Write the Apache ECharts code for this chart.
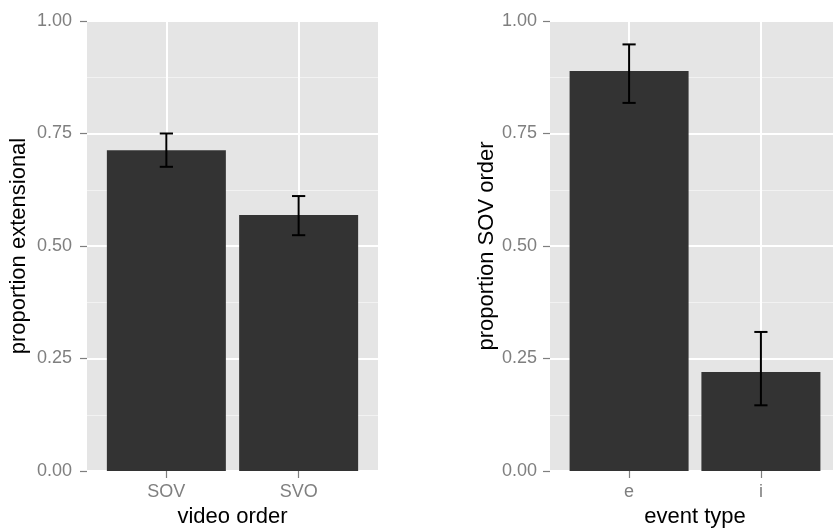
<!DOCTYPE html>
<html>
<head>
<meta charset="utf-8">
<script src="https://cdn.jsdelivr.net/npm/echarts@6/dist/echarts.min.js"></script>
<style>
html,body{margin:0;padding:0;background:#fff;}
#chart{width:833px;height:529px;}
</style>
</head>
<body>
<div id="chart"></div>
<script>
// ---- data ----
const leftCategories = ['SOV', 'SVO'];
const leftMeans = [0.713, 0.569];
const leftLower = [0.676, 0.524];
const leftUpper = [0.750, 0.611];

const rightCategories = ['e', 'i'];
const rightMeans = [0.889, 0.220];
const rightLower = [0.818, 0.146];
const rightUpper = [0.948, 0.309];

const yTicks = [0, 0.25, 0.5, 0.75, 1];
const leftXTitle = 'video order';
const leftYTitle = 'proportion extensional';
const rightXTitle = 'event type';
const rightYTitle = 'proportion SOV order';

// ---- build ----
const FONT = '"Liberation Sans", Arial, Helvetica, sans-serif';
const GREY_TXT = '#7F7F7F';

function positions(cats) { return cats.map((c, i) => i + 1); }

function xAxisFor(gridIndex, cats, title, nameGap) {
  const pos = positions(cats);
  return {
    type: 'value', gridIndex: gridIndex,
    min: 0.4, max: cats.length + 0.6,
    name: title, nameLocation: 'middle', nameGap: nameGap,
    nameTextStyle: { fontFamily: FONT, fontSize: 22, color: '#000' },
    axisLine: { show: false },
    axisTick: { show: true, length: 7, customValues: pos, lineStyle: { color: GREY_TXT, width: 1.2 } },
    axisLabel: {
      show: true, customValues: pos, margin: 12,
      fontFamily: FONT, fontSize: 18, color: GREY_TXT,
      formatter: v => cats[Math.round(v) - 1] || ''
    },
    splitLine: { show: true, lineStyle: { color: '#FFFFFF', width: 2 } },
    minorSplitLine: { show: false }
  };
}

function yAxisFor(gridIndex, title, nameGap, margin) {
  return {
    type: 'value', gridIndex: gridIndex,
    min: yTicks[0], max: yTicks[yTicks.length - 1], interval: 0.25,
    name: title, nameLocation: 'middle', nameGap: nameGap,
    nameTextStyle: { fontFamily: FONT, fontSize: 22, color: '#000' },
    axisLine: { show: false },
    axisTick: { show: true, length: 7, lineStyle: { color: GREY_TXT, width: 1.2 } },
    axisLabel: {
      margin: margin, fontFamily: FONT, fontSize: 18, color: GREY_TXT,
      formatter: v => v.toFixed(2)
    },
    splitLine: { show: true, lineStyle: { color: '#FFFFFF', width: 2 } },
    minorTick: { show: false, splitNumber: 2 },
    minorSplitLine: { show: true, lineStyle: { color: '#F2F2F2', width: 1 } }
  };
}

function barSeries(idx, cats, means) {
  const pos = positions(cats);
  return {
    type: 'bar', xAxisIndex: idx, yAxisIndex: idx,
    data: pos.map((p, i) => [p, means[i]]),
    barWidth: 119,
    itemStyle: { color: '#333333' },
    silent: true, z: 3
  };
}

function errSeries(idx, cats, lower, upper) {
  const pos = positions(cats);
  return {
    type: 'custom', xAxisIndex: idx, yAxisIndex: idx,
    data: pos.map((p, i) => [p, lower[i], upper[i]]),
    z: 5, silent: true,
    renderItem: function (params, api) {
      const x = api.value(0);
      const lo = api.coord([x, api.value(1)]);
      const hi = api.coord([x, api.value(2)]);
      const half = api.size([0.1, 0])[0] / 2;
      const st = { stroke: '#000', lineWidth: 2 };
      return {
        type: 'group',
        children: [
          { type: 'line', shape: { x1: lo[0], y1: lo[1], x2: hi[0], y2: hi[1] }, style: st },
          { type: 'line', shape: { x1: hi[0] - half, y1: hi[1], x2: hi[0] + half, y2: hi[1] }, style: st },
          { type: 'line', shape: { x1: lo[0] - half, y1: lo[1], x2: lo[0] + half, y2: lo[1] }, style: st }
        ]
      };
    }
  };
}

const chart = echarts.init(document.getElementById('chart'), null, { renderer: 'canvas' });
chart.setOption({
  animation: false,
  backgroundColor: '#FFFFFF',
  textStyle: { fontFamily: FONT },
  grid: [
    { left: 87, top: 21, width: 291, height: 450, show: true, backgroundColor: '#E5E5E5', borderWidth: 0, containLabel: false, outerBoundsMode: 'none' },
    { left: 550, top: 21, width: 290, height: 450, show: true, backgroundColor: '#E5E5E5', borderWidth: 0, containLabel: false, outerBoundsMode: 'none' }
  ],
  xAxis: [
    xAxisFor(0, leftCategories, leftXTitle, 32),
    xAxisFor(1, rightCategories, rightXTitle, 32)
  ],
  yAxis: [
    yAxisFor(0, leftYTitle, 57, 15),
    yAxisFor(1, rightYTitle, 52, 13)
  ],
  series: [
    barSeries(0, leftCategories, leftMeans),
    errSeries(0, leftCategories, leftLower, leftUpper),
    barSeries(1, rightCategories, rightMeans),
    errSeries(1, rightCategories, rightLower, rightUpper)
  ]
});
</script>
</body>
</html>
